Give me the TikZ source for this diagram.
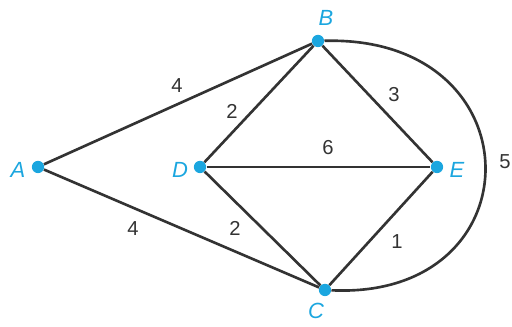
\documentclass[tikz,border=0pt]{standalone}
\usepackage{fontspec}
\setmainfont{Liberation Sans}
\definecolor{vcyan}{HTML}{1BA6DF}
\definecolor{edgegray}{HTML}{333333}
\tikzset{
  vertex/.style={circle, fill=vcyan, inner sep=0pt, minimum size=7pt},
  vlabel/.style={text=vcyan, font=\fontsize{12.5}{14}\selectfont\itshape},
  edge/.style={draw=edgegray, line width=1.5pt},
  weight/.style={text=edgegray, font=\fontsize{11.5}{13}\selectfont}
}
\begin{document}
\begin{tikzpicture}[x=0.02cm,y=-0.02cm]
      \useasboundingbox (0,0) rectangle (512,327);
      % Draw the five vertices
      \node[vertex] at (38,167) (A) {};
      \node[vertex] at (318,41) (B) {};
      \node[vertex] at (200,167) (D) {};
      \node[vertex] at (437,167) (E) {};
      \node[vertex] at (325,290) (C) {};

      % Draw the vertex names
      \node[vlabel] at (18,170) (nameA) {A};
      \node[vlabel] at (326,18) (nameB) {B};
      \node[vlabel] at (180,170) (nameD) {D};
      \node[vlabel] at (457,170) (nameE) {E};
      \node[vlabel] at (316,311) (nameC) {C};

      % Draw the edges
      \draw[edge] (A) -- (B);
      \draw[edge] (A) -- (C);
      \draw[edge] (D) -- (B);
      \draw[edge] (D) -- (C);
      \draw[edge] (D) -- (E);
      \draw[edge] (B) -- (E);
      \draw[edge] (C) -- (E);
      \draw[edge] (B) .. controls (538,35) and (538,300) .. (C);

      % Draw the edge weights
      \node[weight] at (177,86) (wAB) {4};
      \node[weight] at (133,229) (wAC) {4};
      \node[weight] at (232,111) (wDB) {2};
      \node[weight] at (235,228) (wDC) {2};
      \node[weight] at (328,148) (wDE) {6};
      \node[weight] at (394,95) (wBE) {3};
      \node[weight] at (397,242) (wCE) {1};
      \node[weight] at (505,162) (wBC) {5};
    \end{tikzpicture}
\end{document}
